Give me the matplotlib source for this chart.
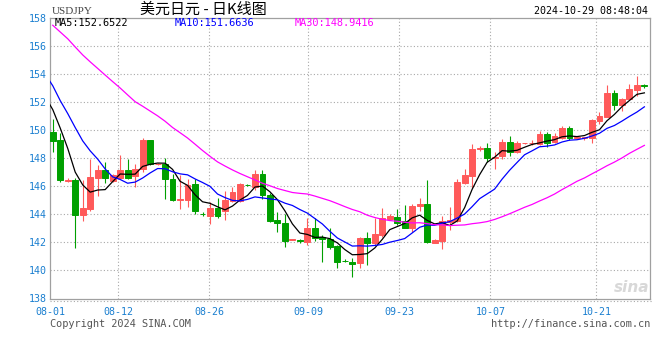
import matplotlib
matplotlib.use("Agg")
import matplotlib.pyplot as plt
import numpy as np
import pandas as pd
from matplotlib.lines import Line2D

# ---------------- data ----------------
prior_closes = [160.85, 160.85, 161.45, 161.45, 161.4, 161.2, 160.75, 160.75, 160.8, 161.3,
                161.7, 158.95, 157.85, 157.85, 158.05, 158.35, 156.2, 157.4, 157.45, 157.45,
                157.0, 155.6, 153.9, 153.95, 153.75, 153.0, 153.6, 152.4, 149.0]

opens = [149.87, 149.3, 146.35, 146.45, 143.95, 144.4, 146.6, 147.15, 146.35, 146.6,
         147.15, 146.7, 147.2, 149.3, 147.55, 147.6, 146.5, 145.0, 145.0, 146.15,
         144.03, 143.9, 144.45, 144.2, 144.95, 144.95, 146.1, 145.95, 146.85, 145.35,
         143.6, 143.35, 142.18, 142.13, 142.05, 143.05, 142.4, 142.25, 141.75, 140.7,
         140.6, 140.5, 142.3, 141.95, 142.55, 143.65, 143.8, 143.5, 143.05, 144.55,
         144.7, 141.97, 142.1, 143.45, 143.55, 146.25, 146.75, 148.65, 148.7, 147.97,
         148.15, 149.15, 148.4, 149.05, 149.07, 149.0, 149.7, 149.15, 149.4, 150.1,
         149.42, 149.43, 149.45, 150.65, 150.95, 152.6, 151.75, 152.2, 152.85, 153.2]
highs = [150.8, 149.75, 146.55, 146.55, 146.4, 147.9, 147.5, 147.75, 146.85, 148.2,
         147.95, 147.55, 149.4, 149.3, 147.65, 148.0, 146.85, 146.8, 146.5, 146.5,
         144.15, 144.9, 145.15, 145.65, 145.95, 146.2, 146.15, 147.15, 147.15, 145.5,
         144.15, 144.0, 142.25, 142.25, 143.7, 143.7, 142.5, 143.05, 141.8, 140.8,
         140.85, 142.4, 142.7, 143.7, 144.45, 144.0, 144.4, 144.65, 144.7, 145.15,
         146.45, 142.23, 143.85, 144.5, 146.5, 147.2, 149.0, 148.85, 149.1, 148.4,
         149.35, 149.55, 149.2, 149.1, 149.25, 149.95, 149.85, 149.8, 150.3, 150.3,
         149.5, 149.5, 150.8, 151.25, 153.2, 152.85, 152.3, 153.25, 153.85, 153.3]
lows = [148.45, 146.3, 146.3, 141.6, 143.55, 144.2, 145.3, 146.2, 146.3, 146.5,
        146.5, 145.95, 147.0, 147.5, 147.5, 145.1, 144.93, 144.4, 144.5, 144.0,
        143.9, 143.3, 143.75, 143.6, 144.9, 144.9, 146.0, 145.7, 145.1, 143.45,
        142.75, 141.7, 142.15, 141.95, 141.8, 142.1, 140.6, 141.55, 140.2, 140.6,
        139.5, 140.2, 140.4, 141.8, 142.4, 143.6, 143.2, 143.0, 142.75, 144.25,
        141.95, 141.92, 141.55, 142.85, 143.45, 146.15, 145.85, 148.5, 147.75, 147.2,
        147.95, 148.15, 148.35, 149.0, 148.95, 148.92, 148.75, 149.1, 149.35, 149.3,
        149.4, 149.3, 149.05, 150.45, 150.9, 151.45, 151.35, 152.1, 152.4, 152.95]
closes = [149.23, 146.4, 146.4, 143.95, 144.45, 146.65, 147.15, 146.55, 146.8, 147.15,
          146.55, 147.2, 149.3, 147.55, 147.6, 146.5, 145.0, 145.07, 146.1, 144.25,
          144.0, 144.45, 143.85, 145.0, 145.6, 146.15, 146.07, 146.85, 145.35, 143.55,
          143.35, 142.1, 142.2, 142.1, 143.05, 142.3, 142.2, 141.65, 140.6, 140.67,
          140.45, 142.3, 141.95, 142.6, 143.75, 143.9, 143.4, 143.05, 144.6, 144.7,
          142.05, 142.13, 143.5, 143.6, 146.3, 146.8, 148.65, 148.72, 148.0, 148.1,
          149.15, 148.45, 149.05, 149.08, 149.1, 149.7, 149.1, 149.55, 150.1, 149.4,
          149.47, 149.47, 150.7, 151.0, 152.6, 151.75, 152.2, 152.9, 153.2, 153.13]

tick_labels = ["08-01", "08-12", "08-26", "09-09", "09-23", "10-07", "10-21"]
ma_periods = [5, 10, 30]
ma_labels = ["MA5:152.6522", "MA10:151.6636", "MA30:148.9416"]
symbol = "USDJPY"
title = "美元日元 - 日K线图"
timestamp = "2024-10-29 08:48:04"

# ---------------- layout ----------------
W, H = 660, 360
tick_pos = [-0.3, 8.75, 20.9, 34.1, 46.3, 58.45, 72.6]
UP, DOWN = "#ff5a5a", "#00a000"
MA_COLORS = ["#000000", "#0000ff", "#ff00ff"]
AXIS_BLUE = "#1a7fd0"
GRID = "#a8a8a8"
MONO = ["DejaVu Sans Mono"]

fig = plt.figure(figsize=(W / 100, H / 100), dpi=100)
fig.patch.set_facecolor("white")
L, R, T, B = 50.5, 650, 17.5, 298.5
ax = fig.add_axes([L / W, 1 - B / H, (R - L) / W, (B - T) / H])

n = len(closes)
idx = np.arange(n)
o = np.array(opens); c = np.array(closes); h = np.array(highs); lo = np.array(lows)
up = c >= o
cols = np.where(up, UP, DOWN)

# wicks
ax.vlines(idx, lo, h, colors=cols, linewidth=0.8, zorder=3)
# bodies
bottom = np.minimum(o, c)
height = np.maximum(np.abs(c - o), 0.001)
ax.bar(idx, height, bottom=bottom, width=0.78, color=cols, edgecolor=cols,
       linewidth=0.7, zorder=4)

# moving averages
all_closes = pd.Series(prior_closes + closes)
xall = np.arange(-len(prior_closes), n)
for p, col in zip(ma_periods, MA_COLORS):
    ma = all_closes.rolling(p).mean().values
    ax.plot(xall, ma, color=col, linewidth=0.9, zorder=5)

ax.set_xlim(-0.3, 79.75)
ax.set_ylim(138, 158)

# grid
ax.set_yticks(np.arange(138, 159, 2))
ax.set_yticklabels([str(v) for v in range(138, 159, 2)])
ax.set_xticks(tick_pos)
ax.set_xticklabels(tick_labels)
for v in range(140, 158, 2):
    ax.axhline(v, color=GRID, linewidth=0.8, linestyle=(0, (1, 2)), zorder=1)
for tp in tick_pos[1:]:
    ax.axvline(tp, color=GRID, linewidth=0.8, linestyle=(0, (1, 2)), zorder=1)

ax.tick_params(axis="both", length=0, colors=AXIS_BLUE, labelsize=7.2)
ax.tick_params(axis="y", pad=3)
ax.tick_params(axis="x", pad=6)
for lab in ax.get_xticklabels() + ax.get_yticklabels():
    lab.set_family(MONO)
    lab.set_color(AXIS_BLUE)

for s in ax.spines.values():
    s.set_color("#a0a0a0")
    s.set_linewidth(0.9)

# dotted line under the plot
fig.add_artist(Line2D([L / W, (R + 2) / W], [1 - 301 / H, 1 - 301 / H],
                      transform=fig.transFigure, color=GRID, linewidth=0.8,
                      linestyle=(0, (1, 2))))

def ftext(x, y, s, **kw):
    fig.text(x / W, 1 - y / H, s, **kw)

# header
ftext(52, 11, symbol, family=["Liberation Serif"], fontsize=8, color="#444444", va="center", ha="left")
ftext(140, 10, title, family=["Noto Sans CJK SC", "DejaVu Sans"], fontsize=10.8, color="#000000",
      va="center", ha="left")
ftext(648, 11, timestamp, family=MONO, fontsize=7.2, color="#000000", va="center", ha="right")

# MA legends
for xpos, txt, col in zip([55, 175, 295], ma_labels, MA_COLORS):
    ftext(xpos, 23, txt, family=MONO, fontsize=7.4, color=col, va="center", ha="left")

# footer
ftext(50, 324, "Copyright 2024 SINA.COM", family=MONO, fontsize=7.4, color="#555555",
      va="center", ha="left")
ftext(650, 324, "http://finance.sina.com.cn", family=MONO, fontsize=7.4, color="#555555",
      va="center", ha="right")

# watermark
ftext(632, 288, "sina", family=["DejaVu Sans"], fontsize=11, fontweight="bold",
      fontstyle="italic", color="#d8d8d8", va="center", ha="center", zorder=0)

fig.savefig("out.png", dpi=100, facecolor="white")
